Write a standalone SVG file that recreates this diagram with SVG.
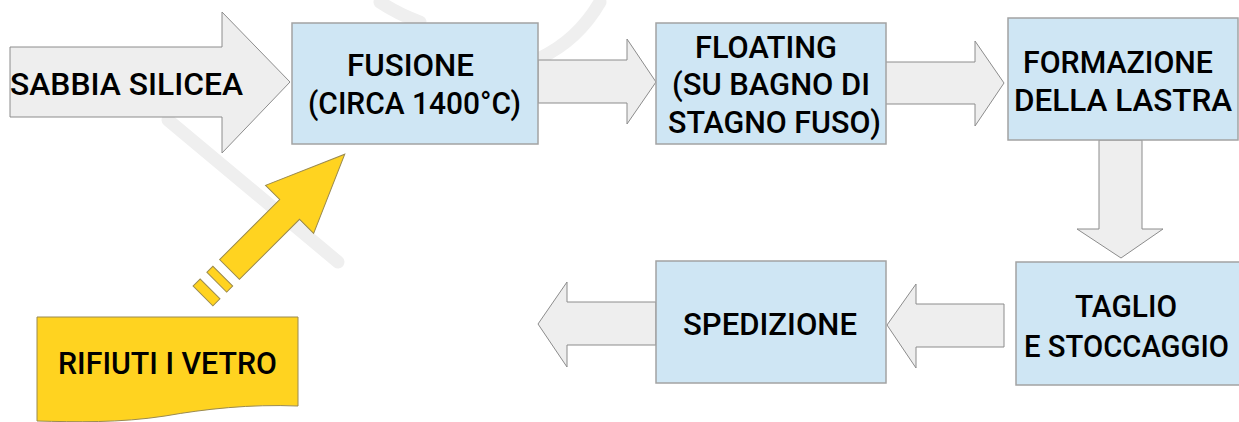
<svg xmlns="http://www.w3.org/2000/svg" width="1239" height="422" viewBox="0 0 1239 422">
<style>
.box{fill:#cfe6f4;stroke:#a3a3a3;stroke-width:1.5}
.arr{fill:#eeeeee;stroke:#8c8c8c;stroke-width:1}
.yel{fill:#ffd320;stroke:#9a8a50;stroke-width:1}
.wm{fill:none;stroke:#efefef;stroke-width:13;stroke-linecap:round}
text{font-family:Roboto,"Liberation Sans",sans-serif;font-size:31px;font-weight:500;fill:#000}
</style>
<rect width="1239" height="422" fill="#ffffff"/>
<g id="watermark">
<path class="wm" d="M168,120 L338,262"/>
<path class="wm" d="M380,2 Q398,14 420,22"/>
<path class="wm" d="M600,2 Q578,40 540,58"/>
</g>
<g id="connectors">
<polygon class="arr" points="538,60 627,60 627,39 656,82 627,124 627,103 538,103"/>
<polygon class="arr" points="885,62 975,62 975,41 1004,83 975,126 975,104 885,104"/>
<polygon class="arr" points="1099,140 1142,140 1142,229 1163,229 1121,258 1077,229 1099,229"/>
<polygon class="arr" points="1004,304 1004,347 916,347 916,368 887,325 916,284 916,304"/>
<polygon class="arr" points="656,302 656,345 567,345 567,367 538,324 567,282 567,302"/>
<g transform="translate(229.5,269.5) rotate(-45)">
<polygon class="yel" points="0,-14 85,-14 85,-34 163,0 85,34 85,14 0,14"/>
<rect class="yel" x="-18" y="-14" width="8.5" height="28"/>
<rect class="yel" x="-37.5" y="-14" width="10" height="28"/>
</g>
</g>
<g id="sabbia">
<polygon class="arr" points="10,47 222,47 222,12 290,82 222,153 222,117 10,117"/>
<text x="10" y="95" textLength="233" lengthAdjust="spacingAndGlyphs">SABBIA SILICEA</text>
</g>
<g id="fusione">
<rect class="box" x="292" y="23" width="246" height="121"/>
<text x="347" y="76" textLength="127" lengthAdjust="spacingAndGlyphs">FUSIONE</text>
<text x="308" y="114" textLength="213" lengthAdjust="spacingAndGlyphs">(CIRCA 1400°C)</text>
</g>
<g id="floating">
<rect class="box" x="656" y="23" width="230" height="121"/>
<text x="695" y="58" textLength="142" lengthAdjust="spacingAndGlyphs">FLOATING</text>
<text x="672" y="95" textLength="198" lengthAdjust="spacingAndGlyphs">(SU BAGNO DI</text>
<text x="668" y="133" textLength="213" lengthAdjust="spacingAndGlyphs">STAGNO FUSO)</text>
</g>
<g id="formazione">
<rect class="box" x="1008" y="18" width="230" height="122"/>
<text x="1023" y="73" textLength="190" lengthAdjust="spacingAndGlyphs">FORMAZIONE</text>
<text x="1014" y="111" textLength="218" lengthAdjust="spacingAndGlyphs">DELLA LASTRA</text>
</g>
<g id="taglio">
<rect class="box" x="1016" y="262" width="224" height="123"/>
<text x="1075" y="317" textLength="102" lengthAdjust="spacingAndGlyphs">TAGLIO</text>
<text x="1024" y="357" textLength="205" lengthAdjust="spacingAndGlyphs">E STOCCAGGIO</text>
</g>
<g id="spedizione">
<rect class="box" x="656" y="261" width="230" height="122"/>
<text x="683" y="335" textLength="174" lengthAdjust="spacingAndGlyphs">SPEDIZIONE</text>
</g>
<g id="rifiuti">
<path class="yel" d="M37,317 H298 V406 C250,404 205,409 165,416 C120,423 75,422 37,421 Z"/>
<text x="58" y="374" textLength="219" lengthAdjust="spacingAndGlyphs">RIFIUTI I VETRO</text>
</g>
</svg>
